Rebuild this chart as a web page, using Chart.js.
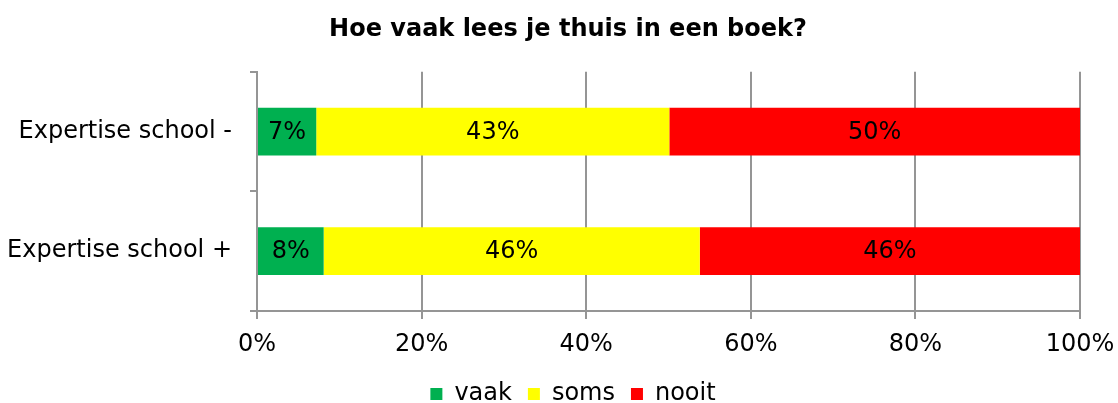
<!DOCTYPE html>
<html>
<head>
<meta charset="utf-8">
<script src="https://cdn.jsdelivr.net/npm/chart.js@4"></script>
<style>
html,body{margin:0;padding:0;background:#fff;}
#wrap{width:1118px;height:403px;position:relative;}
</style>
</head>
<body>
<div id="wrap"><canvas id="c" width="1118" height="403"></canvas></div>
<script>
const titleText = 'Hoe vaak lees je thuis in een boek?';
const categories = ['Expertise school -', 'Expertise school +'];
const seriesNames = ['vaak', 'soms', 'nooit'];
const vaak = [7.2, 8.1];
const soms = [42.9, 45.7];
const nooit = [49.9, 46.2];
const xTicks = [0, 20, 40, 60, 80, 100];
const colors = ['#00B050', '#FFFF00', '#FF0000'];

const FONT = "'DejaVu Sans', Verdana, sans-serif";
const GRID = '#959595';

const labelPlugin = {
  id: 'barLabels',
  afterDatasetsDraw(chart) {
    const ctx = chart.ctx;
    ctx.save();
    ctx.font = '24px ' + FONT;
    ctx.fillStyle = '#000';
    ctx.textAlign = 'center';
    ctx.textBaseline = 'middle';
    chart.data.datasets.forEach((ds, i) => {
      const meta = chart.getDatasetMeta(i);
      meta.data.forEach((el, j) => {
        const v = ds.data[j];
        const x = (el.x + el.base) / 2;
        ctx.fillText(Math.round(v) + '%', x, el.y + 1);
      });
    });
    ctx.restore();
  }
};

const boxShift = {
  id: 'boxShift',
  afterLayout(chart) {
    if (chart.legend) {
      chart.legend.top += 13;
      chart.legend.bottom += 13;
      chart.legend.left += 28;
    }
    if (chart.titleBlock) {
      chart.titleBlock.left += 18;
    }
  }
};

new Chart(document.getElementById('c'), {
  type: 'bar',
  data: {
    labels: categories,
    datasets: [
      { label: seriesNames[0], data: vaak, backgroundColor: colors[0] },
      { label: seriesNames[1], data: soms, backgroundColor: colors[1] },
      { label: seriesNames[2], data: nooit, backgroundColor: colors[2] }
    ]
  },
  options: {
    indexAxis: 'y',
    responsive: false,
    animation: false,
    devicePixelRatio: 1,
    layout: { padding: { left: 0, right: 0, top: 0, bottom: 0 } },
    datasets: { bar: { barPercentage: 0.4, categoryPercentage: 1.0, borderWidth: 0 } },
    plugins: {
      title: {
        display: true,
        text: titleText,
        color: '#000',
        font: { family: FONT, size: 24, weight: 'bold' },
        padding: { top: 15, bottom: 28 }
      },
      legend: {
        position: 'bottom',
        labels: {
          color: '#000',
          font: { family: FONT, size: 24 },
          boxWidth: 12,
          boxHeight: 12,
          padding: 16
        }
      },
      tooltip: { enabled: false }
    },
    scales: {
      x: {
        stacked: true,
        min: 0,
        max: 100,
        afterBuildTicks(scale) { scale.ticks = xTicks.map(v => ({ value: v })); },
        ticks: {
          color: '#000',
          font: { family: FONT, size: 24 },
          padding: 11,
          callback: (v) => v + '%'
        },
        grid: { color: GRID, lineWidth: 2, tickLength: 8, tickColor: GRID },
        border: { display: true, color: GRID, width: 2 },
        afterFit(scale) { scale.height = 42; scale.paddingRight = 38; scale.paddingLeft = 0; }
      },
      y: {
        stacked: true,
        offset: true,
        ticks: {
          color: '#000',
          font: { family: FONT, size: 24 },
          padding: 18
        },
        grid: { offset: true, drawOnChartArea: false, tickLength: 7, color: GRID, lineWidth: 2 },
        border: { display: true, color: GRID, width: 2 },
        afterFit(scale) { scale.width = 257; }
      }
    }
  },
  plugins: [labelPlugin, boxShift]
});
</script>
</body>
</html>
